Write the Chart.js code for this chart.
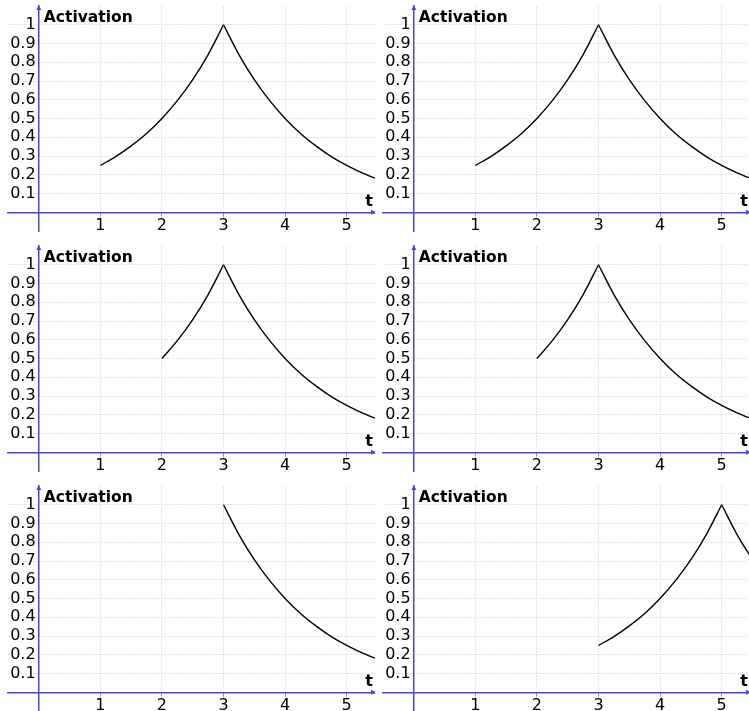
<!DOCTYPE html>
<html>
<head>
<meta charset="utf-8">
<script src="https://cdn.jsdelivr.net/npm/chart.js@4/dist/chart.umd.min.js"></script>
<style>
  body { margin: 0; background: #fff; overflow: hidden; }
  .cell { position: absolute; width: 375px; height: 240px; }
</style>
</head>
<body>
<div class="cell" style="left:0;top:0"><canvas id="c1" width="375" height="240"></canvas></div>
<div class="cell" style="left:375px;top:0"><canvas id="c2" width="375" height="240"></canvas></div>
<div class="cell" style="left:0;top:240px"><canvas id="c3" width="375" height="240"></canvas></div>
<div class="cell" style="left:375px;top:240px"><canvas id="c4" width="375" height="240"></canvas></div>
<div class="cell" style="left:0;top:480px"><canvas id="c5" width="375" height="240"></canvas></div>
<div class="cell" style="left:375px;top:480px"><canvas id="c6" width="375" height="240"></canvas></div>
<script>
// tick labels
const xTicks = [1, 2, 3, 4, 5];
const yTicks = [0.1, 0.2, 0.3, 0.4, 0.5, 0.6, 0.7, 0.8, 0.9, 1];

// rising part, t = 1 .. 3
const tUp13 = [1, 1.25, 1.5, 1.75, 2, 2.25, 2.5, 2.75, 3];
const aUp13 = [0.25, 0.297, 0.354, 0.42, 0.5, 0.595, 0.707, 0.841, 1];
// rising part, t = 2 .. 3
const tUp23 = [2, 2.25, 2.5, 2.75, 3];
const aUp23 = [0.5, 0.595, 0.707, 0.841, 1];
// rising part, t = 3 .. 5
const tUp35 = [3, 3.25, 3.5, 3.75, 4, 4.25, 4.5, 4.75, 5];
const aUp35 = [0.25, 0.297, 0.354, 0.42, 0.5, 0.595, 0.707, 0.841, 1];
// decay after the peak at t = 3
const tDown3 = [3, 3.25, 3.5, 3.75, 4, 4.25, 4.5, 4.75, 5, 5.25, 5.5];
const aDown3 = [1, 0.841, 0.707, 0.595, 0.5, 0.42, 0.354, 0.297, 0.25, 0.21, 0.177];
// decay after the peak at t = 5
const tDown5 = [5, 5.25, 5.5];
const aDown5 = [1, 0.841, 0.707];

const axisColor = '#4646dc';
const gridColor = '#e2e2f5';

function pts(ts, as) {
  return ts.map((t, i) => ({ x: t, y: as[i] }));
}

// which curve pieces go in which panel
const panels = [
  ['c1', [pts(tUp13, aUp13), pts(tDown3, aDown3)]],
  ['c2', [pts(tUp13, aUp13), pts(tDown3, aDown3)]],
  ['c3', [pts(tUp23, aUp23), pts(tDown3, aDown3)]],
  ['c4', [pts(tUp23, aUp23), pts(tDown3, aDown3)]],
  ['c5', [pts(tDown3, aDown3)]],
  ['c6', [pts(tUp35, aUp35), pts(tDown5, aDown5)]]
];

// arrows on the axes + axis names
const axisDeco = {
  id: 'axisDeco',
  afterDraw(chart) {
    const { ctx, chartArea } = chart;
    const xs = chart.scales.x, ys = chart.scales.y;
    const x0 = xs.getPixelForValue(0), y0 = ys.getPixelForValue(0);
    ctx.save();
    ctx.fillStyle = axisColor;
    ctx.beginPath();
    ctx.moveTo(x0, chartArea.top - 1);
    ctx.lineTo(x0 - 2.5, chartArea.top + 4);
    ctx.lineTo(x0 + 2.5, chartArea.top + 4);
    ctx.fill();
    ctx.beginPath();
    ctx.moveTo(chartArea.right + 1, y0);
    ctx.lineTo(chartArea.right - 4, y0 - 2.5);
    ctx.lineTo(chartArea.right - 4, y0 + 2.5);
    ctx.fill();
    ctx.fillStyle = '#000';
    ctx.textBaseline = 'alphabetic';
    ctx.font = 'bold 15.5px "DejaVu Sans"';
    ctx.textAlign = 'left';
    ctx.fillText('Activation', x0 + 5, chartArea.top + 16);
    ctx.font = 'bold 16px "DejaVu Sans"';
    ctx.textAlign = 'right';
    ctx.fillText('t', chartArea.right - 2, y0 - 6);
    ctx.restore();
  }
};

panels.forEach(([id, pieces]) => {
  new Chart(document.getElementById(id), {
    type: 'scatter',
    data: {
      datasets: pieces.map(p => ({
        data: p,
        showLine: true,
        borderColor: '#000',
        borderWidth: 1.4,
        pointRadius: 0,
        cubicInterpolationMode: 'monotone'
      }))
    },
    options: {
      responsive: false,
      animation: false,
      layout: { padding: { left: 8, right: 0, top: 6, bottom: 9 } },
      plugins: { legend: { display: false }, tooltip: { enabled: false } },
      scales: {
        x: {
          type: 'linear',
          position: { y: 0 },
          min: -0.5,
          max: 5.46,
          // axes sit inside the plot, so they take no room of their own
          afterFit: s => { s.height = 0; s.paddingLeft = 0; s.paddingRight = 0; s.paddingTop = 0; s.paddingBottom = 0; },
          afterBuildTicks: s => { s.ticks = xTicks.map(v => ({ value: v })); },
          grid: { color: gridColor, tickColor: '#8888cc', tickLength: 3 },
          border: { color: axisColor, width: 1.5, dash: [2, 1] },
          ticks: { color: '#000', font: { family: 'DejaVu Sans', size: 16 }, padding: 1, maxRotation: 0 }
        },
        y: {
          type: 'linear',
          position: { x: 0 },
          min: -0.1,
          max: 1.1,
          afterFit: s => { s.width = 0; s.paddingLeft = 0; s.paddingRight = 0; s.paddingTop = 0; s.paddingBottom = 0; },
          afterBuildTicks: s => { s.ticks = yTicks.map(v => ({ value: v })); },
          grid: { color: gridColor, drawTicks: false },
          border: { color: axisColor, width: 1.5, dash: [2, 1] },
          ticks: { color: '#000', font: { family: 'DejaVu Sans', size: 16 }, callback: v => String(v) + '\u2009' }
        }
      }
    },
    plugins: [axisDeco]
  });
});
</script>
</body>
</html>
